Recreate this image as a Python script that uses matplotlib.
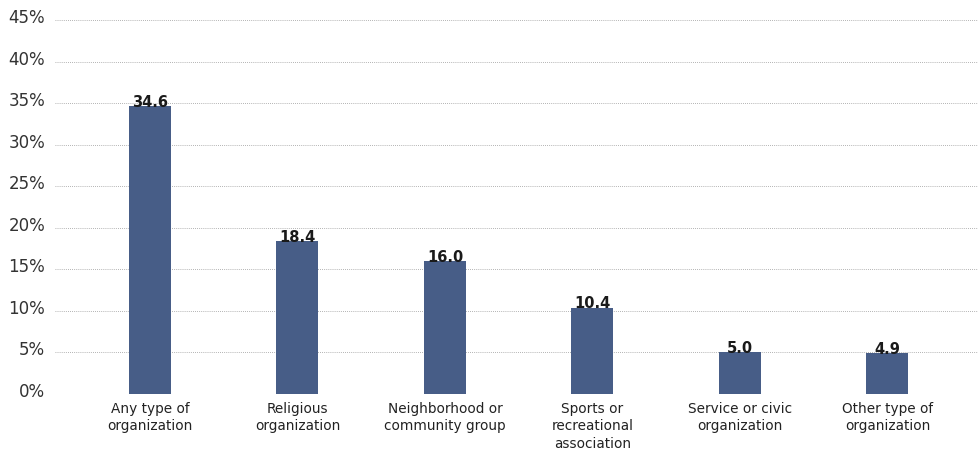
import matplotlib
matplotlib.use("Agg")
import matplotlib.pyplot as plt
import matplotlib.transforms as mtransforms

categories = ["Any type of\norganization", "Religious\norganization",
              "Neighborhood or\ncommunity group", "Sports or\nrecreational\nassociation",
              "Service or civic\norganization", "Other type of\norganization"]
values = [34.6, 18.4, 16.0, 10.4, 5.0, 4.9]
yticks = [0, 5, 10, 15, 20, 25, 30, 35, 40, 45]
ytick_labels = [f"{t}%" for t in yticks]

fig = plt.figure(figsize=(9.8, 4.56), dpi=100)
ax = fig.add_axes([55/980, 1-395/456, (978-55)/980, (395-21)/456])

x = list(range(len(categories)))
ax.bar(x, values, width=0.285, color="#475d87", zorder=3)
for xi, v in zip(x, values):
    ax.text(xi, v - 0.35, f"{v:.1f}", ha="center", va="bottom", fontsize=10.5,
            fontweight="bold", color="#1a1a1a", zorder=4)

ax.set_xlim(-0.644, 5.614)
ax.set_ylim(0, 45)
ax.set_yticks(yticks)
ax.set_yticklabels(ytick_labels, fontsize=12, color="#333333")
ax.set_xticks(x)
ax.set_xticklabels(categories, fontsize=9.8, color="#222222", linespacing=1.3)
ax.tick_params(axis="both", length=0)
ax.tick_params(axis="y", pad=7)
ax.tick_params(axis="x", pad=5)
offset = mtransforms.ScaledTranslation(0, 5/100, fig.dpi_scale_trans)
for lab in ax.get_yticklabels():
    lab.set_transform(lab.get_transform() + offset)
ax.yaxis.grid(True, linestyle=(0, (1, 1.5)), color="#9a9a9a", linewidth=0.6, zorder=0)
for s in ax.spines.values():
    s.set_visible(False)

fig.savefig("out.png", dpi=100)
